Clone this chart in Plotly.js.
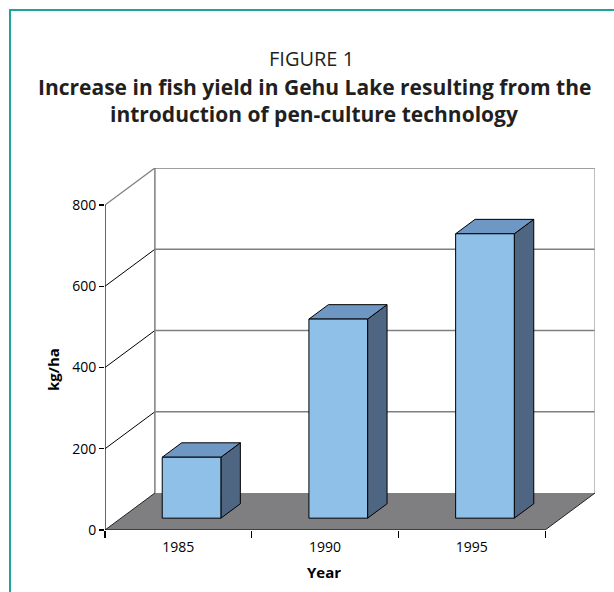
<!DOCTYPE html>
<html>
<head>
<meta charset="utf-8">
<script src="https://cdn.plot.ly/plotly-3.0.1.min.js"></script>
<style>
  html, body { margin: 0; padding: 0; background: #fff; }
  #wrap { position: relative; width: 614px; height: 592px; overflow: hidden; }
  #chart { width: 614px; height: 592px; }
  #frame { position: absolute; left: 9px; top: 9px; width: 640px; height: 640px;
           border-top: 2px solid #1fa39b; border-left: 2px solid #1fa39b; pointer-events: none; }
</style>
</head>
<body>
<div id="wrap"><div id="chart"></div><div id="frame"></div></div>
<script>
// ---- data ----
const years = ['1985', '1990', '1995'];
const yieldKgHa = [150, 490, 700];
const yTickVals = [0, 200, 400, 600, 800];
const yTickText = ['0', '200', '400', '600', '800'];

// ---- 3D projection parameters (data units) ----
const DX = 0.34;      // depth offset along x
const DY = 91;        // depth offset along y
const T0 = 0.32;      // bar front depth fraction
const TD = 0.39;      // bar thickness fraction
const HALF = 0.2;     // half bar width
const SHIFT = 0.09;   // bar front-face x shift
const nCat = years.length;
const yMax = yTickVals[yTickVals.length - 1];

const traces = [];
function line(xs, ys, color, width) {
  traces.push({type: 'scatter', mode: 'lines', x: xs, y: ys, hoverinfo: 'skip',
    line: {color: color, width: width}, showlegend: false});
}
function poly(xs, ys, fill, lc, lw) {
  traces.push({type: 'scatter', mode: 'lines', x: xs.concat([xs[0]]), y: ys.concat([ys[0]]),
    fill: 'toself', fillcolor: fill, hoverinfo: 'skip',
    line: {color: lc, width: lw}, showlegend: false});
}

// back wall horizontal gridlines + diagonals on the side wall
yTickVals.forEach(v => {
  if (v > 0) {
    line([DX, nCat + DX], [v + DY, v + DY], '#7f7f7f', 1.5);
    line([0, DX], [v, v + DY], v === yMax ? '#7f7f7f' : '#000', v === yMax ? 1.3 : 1);
  }
});
// back wall vertical edges
line([DX, DX], [DY, yMax + DY], '#7f7f7f', 1.5);
line([nCat + DX, nCat + DX], [DY, yMax + DY], '#a9a9a9', 1.5);

// floor
poly([0, nCat, nCat + DX, DX], [0, 0, DY, DY], '#7f7f82', 'rgba(0,0,0,0)', 0);
line([nCat, nCat + DX], [0, DY], '#222', 1);
line([0, DX], [0, DY], '#222', 1);

// bars
yieldKgHa.forEach((v, i) => {
  const c = i + 0.5 + SHIFT;
  const xl = c - HALF, xr = c + HALF;
  const b = T0 * DY, t = b + v;
  const dx = TD * DX, dy = TD * DY;
  poly([xr, xr + dx, xr + dx, xr], [b, b + dy, t + dy, t], '#4f6682', '#000', 1);
  poly([xl, xr, xr + dx, xl + dx], [t, t, t + dy, t + dy], '#6f97c3', '#000', 1);
  poly([xl, xr, xr, xl], [b, b, t, t], '#8fc0e8', '#000', 1);
});

// front axis lines
line([0, 0], [0, yMax], '#000', 1.2);
line([0, nCat], [0, 0], '#000', 1.2);

const F = 'Open Sans, sans-serif';
const layout = {
  width: 614, height: 592,
  margin: {l: 105, r: 19, t: 168, b: 62},
  paper_bgcolor: '#fff', plot_bgcolor: 'rgba(0,0,0,0)',
  showlegend: false,
  font: {family: F, color: '#000', size: 14},
  xaxis: {
    range: [0, nCat + DX], showgrid: false, zeroline: false, showline: false,
    tickmode: 'array', tickvals: years.map((_, i) => i + 0.5), ticktext: years,
    ticks: '', ticklabelstandoff: 7, tickfont: {size: 14, family: F, color: '#000'},
    minor: {tickmode: 'array', tickvals: years.map((_, i) => i).concat([nCat]),
            ticks: 'outside', ticklen: 7, tickcolor: '#000', tickwidth: 1.2, showgrid: false},
    fixedrange: true
  },
  yaxis: {
    range: [0, yMax + DY], showgrid: false, zeroline: false, showline: false,
    tickmode: 'array', tickvals: yTickVals, ticktext: yTickText,
    ticks: 'outside', ticklen: 5, tickcolor: '#000', tickwidth: 1.2,
    tickfont: {size: 14, family: F, color: '#000'},
    fixedrange: true
  },
  annotations: [
    {text: 'FIGURE 1', xref: 'paper', yref: 'paper', x: (311 - 105) / 490, y: (530 - 58) / 362,
     showarrow: false, xanchor: 'center', yanchor: 'middle',
     font: {size: 20, family: F, color: '#231f20'}},
    {text: '<b>Increase in fish yield in Gehu Lake resulting from the</b>', xref: 'paper', yref: 'paper',
     x: (314 - 105) / 490, y: (530 - 87) / 362, showarrow: false, xanchor: 'center', yanchor: 'middle',
     font: {size: 21, family: F, color: '#231f20'}},
    {text: '<b>introduction of pen-culture technology</b>', xref: 'paper', yref: 'paper',
     x: (314 - 105) / 490, y: (530 - 114) / 362, showarrow: false, xanchor: 'center', yanchor: 'middle',
     font: {size: 21, family: F, color: '#231f20'}},
    {text: '<b>Year</b>', xref: 'paper', yref: 'paper', x: (324 - 105) / 490, y: (530 - 572) / 362,
     showarrow: false, xanchor: 'center', yanchor: 'middle',
     font: {size: 15, family: F, color: '#000'}},
    {text: '<b>kg/ha</b>', xref: 'paper', yref: 'paper', x: (53 - 105) / 490, y: (530 - 370) / 362,
     showarrow: false, xanchor: 'center', yanchor: 'middle', textangle: -90,
     font: {size: 15, family: F, color: '#000'}}
  ]
};

Plotly.newPlot('chart', traces, layout, {staticPlot: true, displayModeBar: false});
</script>
</body>
</html>
